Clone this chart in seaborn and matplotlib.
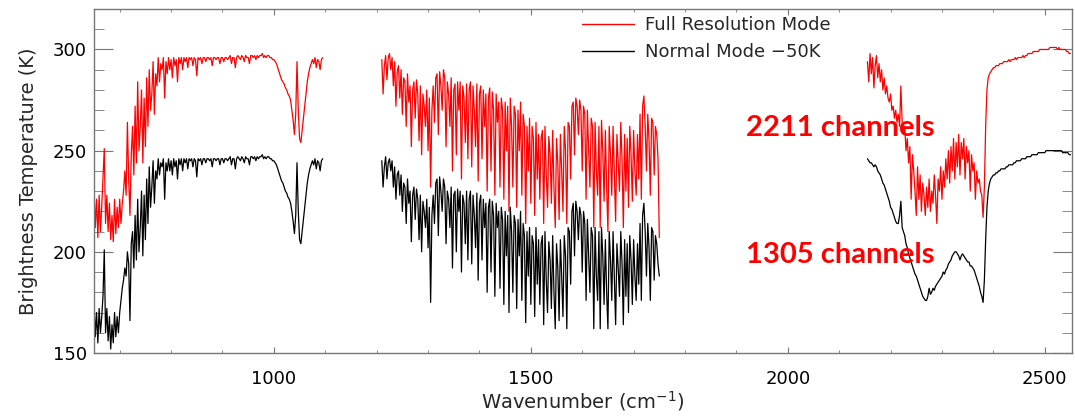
import matplotlib
matplotlib.use('Agg')
import numpy as np
import pandas as pd
import seaborn as sns
import matplotlib.pyplot as plt
from matplotlib.ticker import MultipleLocator

# start wavenumber of each CrIS band (cm-1), values read every 2.5 cm-1
band_start = [650, 1210, 2155]
band_step = 2.5
labels = ['Full Resolution Mode', 'Normal Mode \u221250K']

# band 1 (LW), 650-1095
full_b1 = [232, 212, 226, 207, 228, 210, 222, 236, 251, 214,
           228, 210, 224, 206, 218, 205, 226, 209, 222, 212,
           226, 214, 224, 230, 240, 228, 264, 236, 218, 248,
           262, 238, 272, 244, 284, 250, 262, 280, 244, 276,
           252, 286, 262, 290, 270, 278, 294, 268, 288, 282,
           296, 284, 293, 290, 296, 276, 294, 288, 296, 290,
           295, 286, 296, 292, 295, 284, 296, 293, 296, 290,
           296, 294, 296, 291, 296, 295, 296, 292, 296, 295,
           287, 296, 295, 296, 293, 296, 296, 294, 296, 296,
           295, 296, 292, 296, 296, 295, 296, 296, 293, 296,
           296, 294, 296, 296, 295, 296, 297, 293, 296, 296,
           291, 296, 297, 296, 295, 297, 296, 294, 297, 296,
           296, 293, 297, 297, 296, 297, 295, 297, 296, 297,
           297, 298, 296, 297, 296, 297, 297, 296, 296, 295,
           295, 294, 293, 291, 289, 287, 285, 284, 283, 281,
           280, 278, 277, 275, 270, 265, 258, 268, 294, 270,
           256, 254, 260, 266, 272, 278, 284, 288, 291, 293,
           295, 293, 296, 291, 295, 294, 290, 295, 296]
normal_b1 = [176, 158, 170, 155, 172, 160, 168, 178, 201, 160,
             172, 156, 168, 152, 164, 155, 170, 158, 168, 160,
             170, 176, 182, 186, 192, 188, 200, 194, 166, 204,
             210, 192, 218, 196, 226, 200, 212, 230, 198, 228,
             206, 236, 214, 242, 222, 232, 245, 224, 240, 236,
             246, 238, 244, 242, 246, 226, 244, 240, 246, 240,
             245, 238, 246, 242, 245, 236, 246, 243, 246, 240,
             246, 244, 246, 241, 246, 245, 246, 242, 246, 245,
             237, 246, 245, 246, 243, 246, 246, 244, 246, 246,
             245, 246, 242, 246, 246, 245, 246, 246, 243, 246,
             246, 244, 246, 246, 245, 246, 247, 243, 246, 246,
             241, 246, 247, 246, 245, 247, 246, 244, 247, 246,
             246, 243, 247, 247, 246, 247, 245, 247, 246, 247,
             247, 248, 246, 247, 246, 247, 247, 246, 246, 245,
             245, 244, 243, 241, 239, 237, 235, 234, 232, 230,
             229, 227, 226, 224, 220, 215, 209, 218, 244, 220,
             206, 204, 210, 216, 222, 228, 234, 238, 241, 243,
             245, 243, 246, 241, 245, 244, 240, 245, 246]

# band 2 (MW), 1210-1750
full_b2 = [295, 278, 292, 297, 285, 296, 298, 290, 296, 282,
           294, 272, 289, 292, 276, 290, 268, 286, 284, 262,
           288, 274, 282, 252, 280, 284, 266, 285, 278, 255,
           282, 248, 278, 272, 262, 280, 250, 276, 232, 270,
           282, 264, 286, 288, 258, 289, 282, 270, 290, 286,
           252, 284, 278, 262, 286, 240, 280, 283, 248, 284,
           270, 284, 236, 282, 276, 254, 283, 246, 280, 284,
           242, 282, 270, 252, 283, 235, 278, 282, 246, 280,
           262, 278, 230, 276, 281, 240, 279, 270, 228, 278,
           264, 274, 232, 276, 270, 226, 274, 250, 272, 220,
           276, 262, 232, 272, 268, 222, 270, 250, 274, 228,
           268, 262, 214, 262, 240, 266, 224, 262, 256, 218,
           264, 236, 258, 226, 256, 260, 214, 262, 238, 222,
           257, 248, 224, 260, 232, 212, 256, 244, 216, 258,
           240, 220, 262, 250, 214, 264, 262, 236, 272, 274,
           248, 276, 272, 258, 275, 270, 240, 272, 268, 226,
           270, 250, 232, 266, 262, 212, 264, 240, 228, 262,
           212, 265, 250, 225, 260, 232, 210, 262, 248, 228,
           262, 238, 215, 258, 244, 230, 264, 246, 212, 258,
           230, 256, 222, 262, 248, 225, 260, 240, 228, 258,
           236, 268, 226, 272, 277, 262, 240, 268, 255, 228,
           266, 264, 238, 262, 258, 246, 207]
normal_b2 = [245, 232, 242, 247, 236, 244, 246, 240, 245, 232,
             242, 226, 238, 240, 228, 238, 220, 234, 232, 214,
             236, 224, 230, 205, 228, 232, 216, 231, 226, 206,
             228, 200, 225, 220, 212, 226, 202, 222, 175, 218,
             228, 214, 234, 236, 208, 237, 230, 220, 236, 232,
             204, 230, 226, 212, 232, 192, 228, 230, 200, 231,
             220, 230, 190, 228, 224, 204, 230, 196, 226, 230,
             194, 228, 218, 202, 229, 186, 224, 228, 196, 226,
             212, 224, 180, 222, 226, 190, 225, 218, 178, 224,
             212, 220, 182, 222, 216, 174, 220, 198, 218, 170,
             222, 210, 180, 218, 214, 172, 216, 198, 220, 176,
             214, 208, 165, 210, 188, 212, 174, 208, 204, 168,
             212, 184, 206, 174, 204, 208, 164, 210, 186, 170,
             205, 196, 172, 208, 180, 162, 204, 192, 166, 206,
             188, 168, 208, 198, 162, 212, 210, 184, 220, 224,
             198, 225, 220, 206, 222, 218, 190, 220, 214, 176,
             216, 198, 180, 212, 208, 162, 212, 188, 176, 210,
             162, 212, 198, 174, 206, 180, 162, 210, 196, 176,
             210, 186, 164, 204, 192, 178, 210, 194, 164, 206,
             178, 204, 170, 208, 196, 174, 206, 188, 176, 204,
             184, 214, 176, 218, 224, 210, 188, 214, 202, 176,
             212, 210, 186, 208, 204, 194, 188]

# band 3 (SW), 2155-2550
full_b3 = [294, 284, 298, 288, 296, 281, 292, 297, 286, 293,
           284, 290, 280, 286, 278, 282, 276, 274, 278, 270,
           272, 266, 270, 264, 268, 262, 282, 264, 258, 262,
           250, 256, 244, 252, 226, 248, 240, 230, 218, 242,
           226, 238, 220, 234, 228, 218, 232, 222, 236, 220,
           230, 224, 238, 228, 214, 236, 230, 242, 226, 240,
           232, 246, 236, 250, 234, 252, 240, 256, 236, 254,
           242, 258, 238, 254, 246, 256, 236, 252, 244, 250,
           230, 248, 240, 244, 226, 240, 234, 236, 230, 228,
           217, 232, 262, 280, 286, 288, 289, 290, 291, 291,
           292, 292, 292, 293, 293, 293, 294, 294, 294, 294,
           295, 294, 295, 295, 295, 296, 295, 296, 296, 296,
           296, 297, 296, 297, 297, 298, 298, 298, 298, 299,
           299, 299, 299, 299, 300, 300, 300, 300, 300, 300,
           300, 300, 301, 301, 301, 301, 301, 301, 300, 301,
           300, 300, 300, 300, 300, 299, 299, 298, 298]
normal_b3 = [246, 245, 244, 244, 243, 242, 243, 242, 240, 239,
             238, 236, 234, 233, 231, 229, 227, 225, 222, 221,
             219, 217, 215, 214, 214, 218, 225, 212, 210, 208,
             204, 202, 199, 197, 195, 193, 191, 189, 188, 186,
             184, 182, 180, 178, 177, 176, 176, 178, 182, 179,
             180, 182, 181, 183, 184, 185, 186, 187, 188, 190,
             189, 191, 192, 194, 195, 196, 198, 199, 200, 200,
             199, 198, 196, 198, 199, 198, 197, 196, 195, 195,
             193, 193, 192, 191, 189, 187, 185, 183, 180, 178,
             175, 186, 206, 222, 230, 234, 236, 237, 238, 238,
             239, 239, 240, 240, 241, 241, 241, 241, 242, 242,
             243, 243, 243, 243, 244, 244, 245, 245, 245, 245,
             246, 246, 246, 246, 247, 247, 247, 247, 248, 248,
             248, 248, 248, 249, 249, 249, 249, 249, 249, 250,
             250, 250, 250, 250, 250, 250, 250, 250, 250, 250,
             250, 250, 249, 249, 249, 249, 249, 248, 248]

full_bands = [full_b1, full_b2, full_b3]
normal_bands = [normal_b1, normal_b2, normal_b3]

frames = []
for i in range(3):
    for lab, vals in zip(labels, [full_bands[i], normal_bands[i]]):
        wn = band_start[i] + band_step * np.arange(len(vals))
        frames.append(pd.DataFrame({'wn': wn, 'bt': vals, 'mode': lab, 'band': i}))
df = pd.concat(frames, ignore_index=True)

sns.set_style('ticks')
plt.rcParams['font.family'] = ['DejaVu Sans']

fig = plt.figure(figsize=(10.75, 4.16), dpi=100)
ax = fig.add_axes([94 / 1075, 63 / 416, 978 / 1075, 344 / 416])

sns.lineplot(data=df, x='wn', y='bt', hue='mode', units='band', estimator=None,
             palette={labels[0]: '#ff0000', labels[1]: '#000000'},
             hue_order=labels, linewidth=0.9, ax=ax, legend=True)

ax.set_xlim(650, 2553)
ax.set_ylim(150, 320)
ax.xaxis.set_major_locator(MultipleLocator(500))
ax.xaxis.set_minor_locator(MultipleLocator(100))
ax.yaxis.set_minor_locator(MultipleLocator(10))
ax.set_yticks([150, 200, 250, 300])

gray = '#777777'
for s in ax.spines.values():
    s.set_color(gray)
    s.set_linewidth(1)
ax.tick_params(which='both', direction='in', top=True, right=True,
               color=gray, labelsize=13, labelcolor='black')
ax.tick_params(axis='x', which='major', length=4, pad=12)
ax.tick_params(axis='x', which='minor', length=2.5)
ax.tick_params(axis='y', which='major', length=14, pad=5)
ax.tick_params(axis='y', which='minor', length=7)

ax.set_xlabel('Wavenumber (cm$^{-1}$)', fontsize=14, labelpad=1)
ax.set_ylabel('Brightness Temperature (K)', fontsize=14, labelpad=11)

handles, lbls = ax.get_legend_handles_labels()
for h in handles:
    h.set_linewidth(1)
ax.legend(handles, lbls, loc='upper left', frameon=False, fontsize=13,
          bbox_to_anchor=((582 - 94) / 978, (353 - 16) / 344),
          borderpad=0, borderaxespad=0, handlelength=2.9,
          handletextpad=0.6, labelspacing=0.5)

ax.text(1919, 257, '2211 channels', color='#ff0000', fontsize=21,
        fontweight='bold', family=['Lato', 'DejaVu Sans'], va='baseline')
ax.text(1919, 194.5, '1305 channels', color='#ff0000', fontsize=21,
        fontweight='bold', family=['Lato', 'DejaVu Sans'], va='baseline')

plt.savefig('out.png', dpi=100)
